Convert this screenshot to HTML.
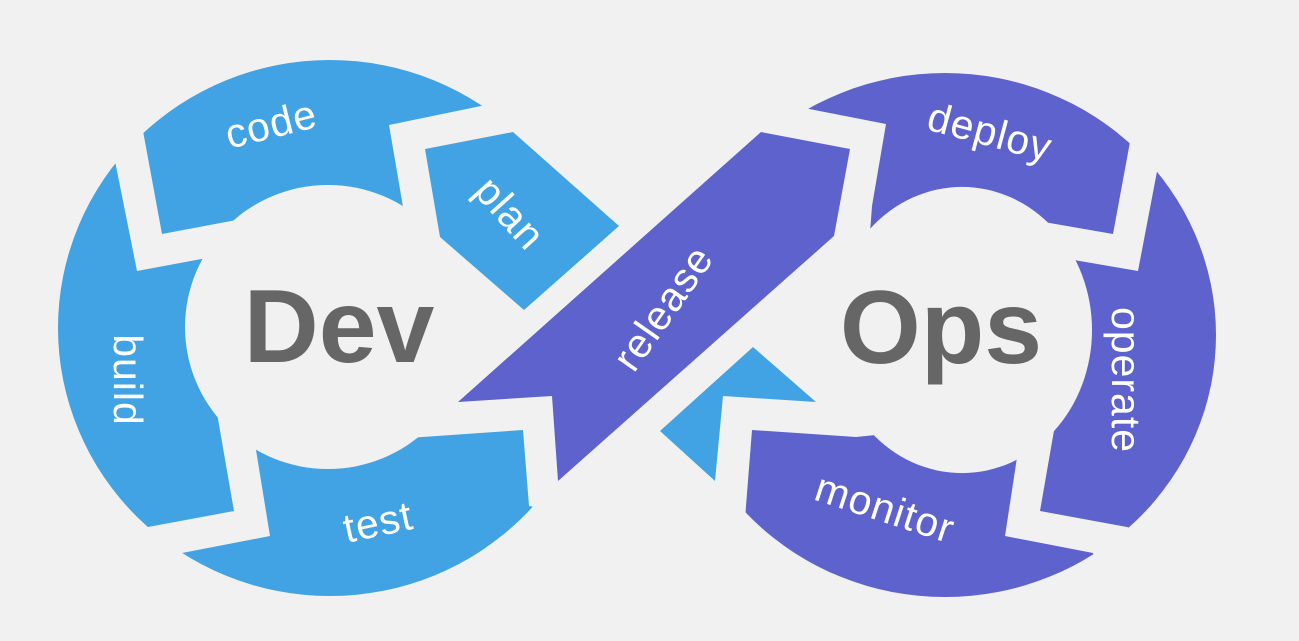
<!DOCTYPE html>
<html><head><meta charset="utf-8"><style>
html,body{margin:0;padding:0;background:#f1f1f1;}
svg{display:block}
text{font-family:"Liberation Sans",sans-serif;}
.l{fill:#fff;font-size:41px;text-anchor:middle;dominant-baseline:central;letter-spacing:1px}
.big{fill:#666;font-size:104px;font-weight:bold;text-anchor:middle}
</style></head><body>
<svg width="1299" height="641" viewBox="0 0 1299 641" xmlns="http://www.w3.org/2000/svg">
<defs>
<clipPath id="lr"><path clip-rule="evenodd" d="M58,328 a272,268 0 1,0 544,0 a272,268 0 1,0 -544,0 Z M185,327 a143,142 0 1,0 286,0 a143,142 0 1,0 -286,0 Z"/></clipPath>
<clipPath id="rr"><path clip-rule="evenodd" d="M674,335 a271,262 0 1,0 542,0 a271,262 0 1,0 -542,0 Z M832,330 a130,143 0 1,0 260,0 a130,143 0 1,0 -260,0 Z"/></clipPath>
</defs>
<rect width="1299" height="641" fill="#f1f1f1"/>
<g clip-path="url(#lr)" fill="#41a3e3">
<polygon points="130,40 143,131 162,234 300,208 407,230 389,125 481,106 520,98 520,40"/>
<polygon points="40,150 115,161 137,271 260,248 212,380 218,419 234,511 148,527 40,560"/>
<polygon points="150,640 182,553 270,536 256,450 252,420 380,440 523,430 529,506 600,520 600,640"/>
</g>
<polygon fill="#41a3e3" points="425,149 513,132 619,226 524,310 440,237"/>
<g clip-path="url(#rr)" fill="#5d62cd">
<polygon points="760,40 794,106 886,124 872,206 868,260 1000,240 1044,222 1113,234 1132,131 1135,40"/>
<polygon points="1171,100 1290,100 1290,580 1127,527 1040,511 1056,419 1040,380 1074,260 1138,271 1159,161"/>
<polygon points="752,430 856,437 1022,420 1018,451 1005,536 1093,553 1120,640 737,640 746,506"/>
</g>
<polygon fill="#5d62cd" points="761,132 850,149 834,236 558,481 552,396 458,402"/>
<polygon fill="#41a3e3" points="753,347 816,402 723,396 715,481 660,431"/>
<text class="big" x="339" y="362">Dev</text>
<text class="big" x="941" y="363">Ops</text>
<text class="l" transform="translate(271,124) rotate(-14)">code</text>
<text class="l" transform="translate(510,213) rotate(48)">plan</text>
<text class="l" transform="translate(128,380) rotate(90)">build</text>
<text class="l" transform="translate(378,522) rotate(-12)">test</text>
<text class="l" transform="translate(663,308) rotate(-55)">release</text>
<text class="l" transform="translate(990,132) rotate(15)">deploy</text>
<text class="l" transform="translate(1126,380) rotate(90)">operate</text>
<text class="l" transform="translate(885,508) rotate(18)">monitor</text>
</svg>
</body></html>
